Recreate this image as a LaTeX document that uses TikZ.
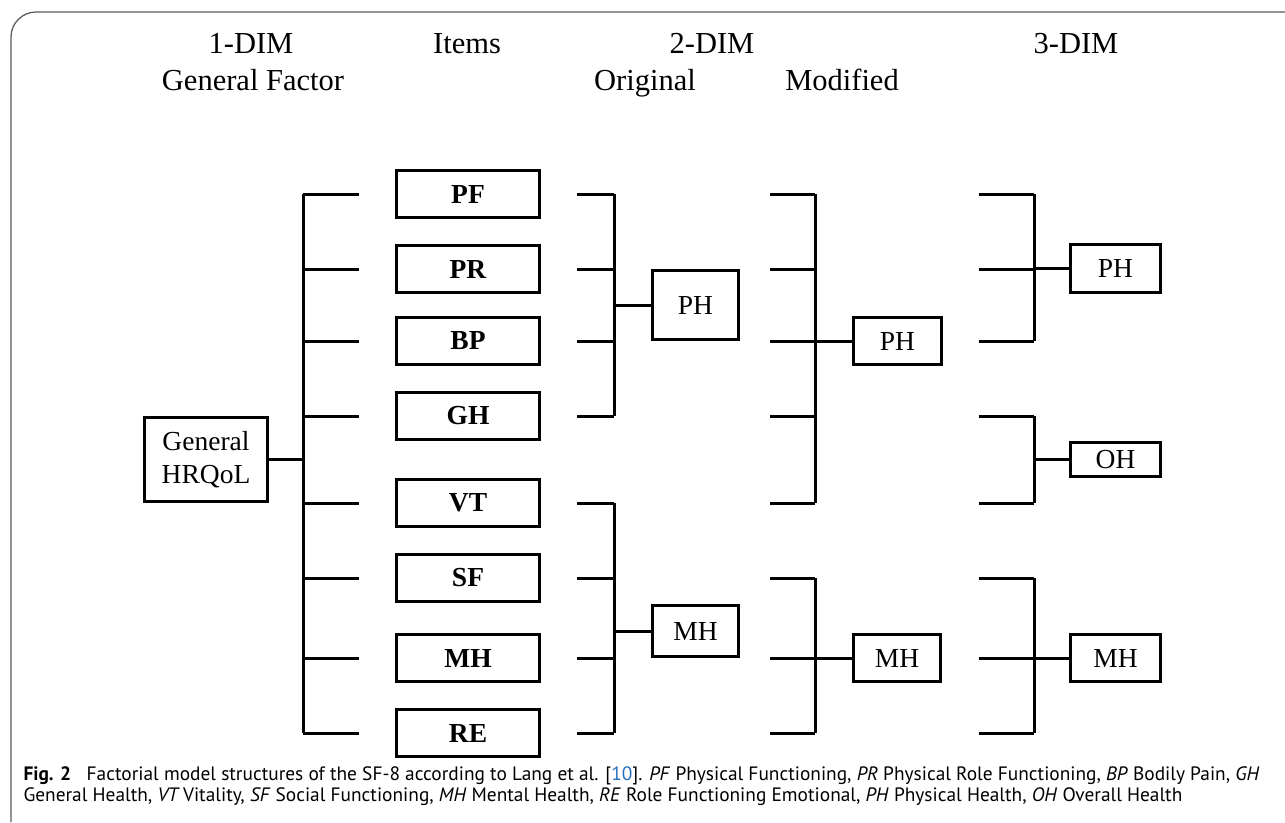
\documentclass[tikz,border=0pt]{standalone}
\usepackage{fontspec}
\setmainfont{Liberation Serif}
\newfontfamily\capfont{PT Sans}
\definecolor{citeblue}{RGB}{40,110,190}
\definecolor{framegray}{RGB}{90,90,90}

\begin{document}
\begin{tikzpicture}[x=0.4pt, y=-0.4pt, line width=1.2pt,
  box/.style={rectangle, draw, line width=1.2pt, inner sep=0pt, font=\fontsize{11}{13}\selectfont},
  item/.style={box, minimum width=57.2pt, minimum height=18.8pt, font=\fontsize{11}{13}\selectfont\bfseries},
  head/.style={anchor=base, font=\fontsize{12.2}{15}\selectfont},
  capline/.style={anchor=base west, inner sep=0pt, font=\capfont\fontsize{7.75}{9}\selectfont}]
\useasboundingbox (0,0) rectangle (1285,822);
\draw[framegray, line width=0.5pt, rounded corners=10pt] (11,822) -- (11,12) -- (1285,12);

% headings
\node (h1) at (251,53) [head] {1-DIM};
\node (h1b) at (253,90) [head] {General Factor};
\node (hi) at (467,53) [head] {Items};
\node (h2) at (712,53) [head] {2-DIM};
\node (h2a) at (645,90) [head] {Original};
\node (h2b) at (842,90) [head] {Modified};
\node (h3) at (1076,53) [head] {3-DIM};

% bracket columns
\coordinate (bus) at (303,0);
\coordinate (obar) at (614,0);
\coordinate (mleft) at (770,0);
\coordinate (mbar) at (815,0);
\coordinate (tleft) at (979,0);
\coordinate (tbar) at (1034,0);

% 1-DIM
\node (gen) at (206,459.5) [box, minimum width=49.2pt, minimum height=33.6pt, align=center] {General\\HRQoL};
\draw (gen) -- (bus |- gen);

% items
\foreach \n/\t/\y in {pf/PF/194, pr/PR/269, bp/BP/341, gh/GH/416, vt/VT/503, sf/SF/578, mh/MH/658, re/RE/733}{
  \node (\n) at (468,\y) [item] {\t};
  \draw (bus |- \n) -- ([xshift=-14.4pt]\n.west);
  \draw ([xshift=14.4pt]\n.east) -- (obar |- \n);
  \draw (mleft |- \n) -- (mbar |- \n);
}
\draw (bus |- pf) -- (bus |- re);

% 2-DIM original
\node (oph) at (695.5,305) [box, minimum width=34.4pt, minimum height=27.6pt] {PH};
\node (omh) at (695.5,631) [box, minimum width=34.4pt, minimum height=20.4pt] {MH};
\draw (obar |- pf) -- (obar |- gh);
\draw (obar |- vt) -- (obar |- re);
\draw (obar |- oph) -- (oph);
\draw (obar |- omh) -- (omh);

% 2-DIM modified
\node (mph) at (897.5,341) [box, minimum width=35.2pt, minimum height=18.8pt] {PH};
\node (mmh) at (897,658) [box, minimum width=35pt, minimum height=18.8pt] {MH};
\draw (mbar |- pf) -- (mbar |- vt);
\draw (mbar |- sf) -- (mbar |- re);
\draw (mbar |- mph) -- (mph);
\draw (mbar |- mmh) -- (mmh);

% 3-DIM
\node (tph) at (1115.5,268.5) [box, minimum width=36pt, minimum height=19.2pt] {PH};
\node (toh) at (1115.5,459.5) [box, minimum width=36pt, minimum height=13.6pt] {OH};
\node (tmh) at (1115.5,658) [box, minimum width=36pt, minimum height=18.8pt] {MH};
\foreach \n in {pf, pr, bp, gh, vt, sf, mh, re}
  \draw (tleft |- \n) -- (tbar |- \n);
\draw (tbar |- pf) -- (tbar |- bp);
\draw (tbar |- gh) -- (tbar |- vt);
\draw (tbar |- sf) -- (tbar |- re);
\draw (tbar |- tph) -- (tph);
\draw (tbar |- toh) -- (toh);
\draw (tbar |- tmh) -- (tmh);

% caption
\node (cap1) at (22,780) [capline] {\textbf{Fig. 2}\hspace{0.8em}Factorial model structures of the SF-8 according to Lang et al. [{\color{citeblue}10}]. \textit{PF} Physical Functioning, \textit{PR} Physical Role Functioning, \textit{BP} Bodily Pain, \textit{GH}};
\node (cap2) at (22,801) [capline] {General Health, \textit{VT}\,Vitality, \textit{SF} Social Functioning, \textit{MH} Mental Health, \textit{RE} Role Functioning Emotional, \textit{PH} Physical Health, \textit{OH} Overall Health};
\end{tikzpicture}
\end{document}
